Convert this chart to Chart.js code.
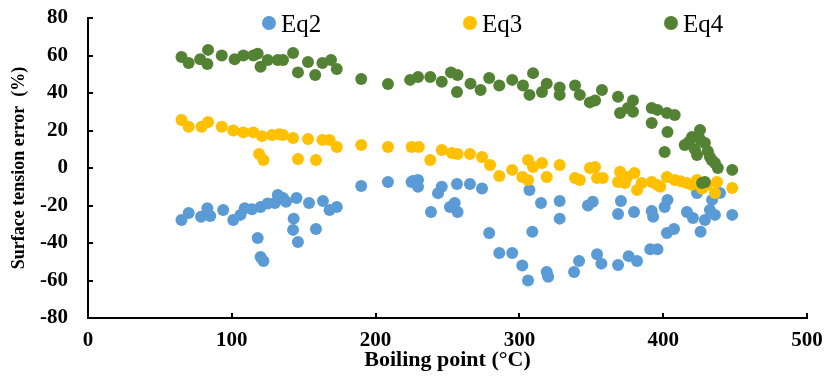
<!DOCTYPE html>
<html>
<head>
<meta charset="utf-8">
<script src="https://cdn.jsdelivr.net/npm/chart.js@4/dist/chart.umd.min.js"></script>
<style>
  html, body { margin: 0; padding: 0; background: #fff; }
</style>
</head>
<body>
<canvas id="chart" width="829" height="379"></canvas>
<script>
// values: boiling point (°C) and error (%)
const eq2Boil = [65, 70, 78.6, 83, 85, 94, 101, 106, 109, 114, 120, 125, 130, 132, 118, 120, 122,
  135.6, 137.7, 145, 153.7, 163.4, 168, 173, 143, 142.6, 146, 158.5, 190, 208.6,
  225, 226, 229.5, 229.5, 246, 243.4, 256.6, 265.6, 274, 238.5, 251.7, 255, 257, 279, 286, 295,
  302, 306, 309, 307, 315, 319, 320, 328, 328, 338, 341.5, 347.7, 351, 354, 357, 368.6, 368.6, 370.6,
  376, 381.8, 379.7, 391, 396, 392, 393, 401, 403, 402.6, 407.5, 416.5, 423.5, 426, 429, 432.5,
  436, 434, 439.5, 448, 420.7];
const eq2Err = [-27.7, -24, -26, -21.5, -25.6, -22.4, -27.7, -25, -21.5, -22, -20.8, -18.9, -18.7, -14.4, -37.3, -47.5, -49.6,
  -16, -18, -16, -18.7, -17.6, -22.4, -20.8, -27, -33, -39.5, -32.5, -9.6, -7.5,
  -7.5, -6.9, -6.4, -10, -10, -13.4, -8.5, -8.5, -10.9, -23.5, -20.8, -18.7, -23.5, -34.7, -45.3, -45.3,
  -52, -60, -34, -11.7, -18.7, -55.5, -58, -17.6, -27, -55.5, -49.6, -20, -18, -46, -51, -51.7, -24.5, -17.6,
  -47, -49.6, -23.5, -43.3, -43.3, -22.9, -26, -20.8, -17, -34.7, -32.5, -23.5, -13.3, -34, -27.7, -22.4,
  -25, -17, -13.3, -25, -26.7];

const eq3Boil = [65, 70, 79, 83.5, 93, 101, 108, 115, 121, 128, 133, 119, 122,
  135.6, 142.6, 153, 163, 168, 173, 146, 158.5, 190, 208.6,
  225, 230, 238, 246, 253, 257, 265.6, 274, 279.6, 286, 295,
  302, 306, 309.5, 306, 315.7, 319, 328, 338.7, 342, 349, 352.6, 354, 358, 370, 368.6, 375,
  380, 381.8, 373.4, 385, 392, 395.7, 398, 402.6, 408, 412, 416.5, 420, 423.5, 427, 430.5, 437.4, 436, 448];
const eq3Err = [25.6, 22, 22, 24.5, 22, 20, 19, 19, 17, 17.6, 18, 7.5, 4.3,
  17.6, 16, 15.5, 15, 15, 11.2, 4.8, 4.3, 12.3, 11.2,
  11.2, 11.2, 4.3, 9.6, 8, 7.5, 7.5, 5.9, 1.6, -4.3, -1,
  -4.8, 4.3, 0.5, -6.4, 2.7, -4.8, 1.6, -5.3, -6.4, 0, 0.5, -5.3, -5.3, -2, -7.5, -4.8,
  -2.7, -11.7, -8, -8, -7.5, -9, -10, -4.8, -6.4, -7, -8, -9, -6.4, -11, -9, -7.5, -13.3, -10.7];

const eq4Boil = [65, 70, 78, 83, 83.5, 93, 102, 108, 115, 118, 120, 125, 132,
  135.6, 142.6, 146, 153, 158, 163, 169, 173, 190, 208.6,
  224, 229.5, 238, 246, 252.4, 257, 256.6, 266, 273, 279, 286, 295,
  302.5, 309.5, 307, 315.7, 319, 328, 328, 338.7, 342, 349, 352.6, 357.4, 368.6, 370, 375.5,
  379, 379, 392, 392, 396, 402.6, 408, 403, 401, 415, 418, 420, 422, 425.6, 426, 423.5, 429, 431,
  432.5, 434, 436, 438, 429, 427, 448];
const eq4Err = [59.2, 56, 58, 55.5, 63, 60, 58, 60, 60, 61, 54, 57.6, 57.6,
  57.6, 61.3, 51, 56.5, 49.6, 56, 57.6, 52.8, 47.5, 44.8,
  47, 48.5, 48.5, 46, 51, 49.6, 40.5, 45, 41.6, 48, 44, 47,
  44, 50.6, 39, 40.5, 45, 39, 43, 44, 39, 35, 36, 41.6, 38, 29.3, 32,
  36, 30, 32, 24, 31, 29.3, 28.3, 19.2, 8.5, 12.3, 14, 16.5, 10, 20.3, 15, 6.9, 13.3, 9,
  5.9, 4, 2.7, 0, -7.5, -8, -1];

const seriesNames = ['Eq2', 'Eq3', 'Eq4'];
const seriesColors = ['#5B9BD5', '#FFC000', '#548235'];

function toPoints(xs, ys) {
  return xs.map((x, i) => ({ x: x, y: ys[i] }));
}

const serif = "'Liberation Serif', 'Times New Roman', serif";

// ticks in Excel style: short marks pointing into the plot
const innerTicks = {
  id: 'innerTicks',
  afterDraw(chart) {
    const ctx = chart.ctx;
    const xs = chart.scales.x, ys = chart.scales.y;
    ctx.save();
    ctx.strokeStyle = '#000';
    ctx.lineWidth = 2;
    ctx.beginPath();
    xs.ticks.forEach(t => {
      const px = Math.round(xs.getPixelForValue(t.value));
      ctx.moveTo(px, ys.bottom);
      ctx.lineTo(px, ys.bottom - 5);
    });
    ys.ticks.forEach(t => {
      const py = Math.round(ys.getPixelForValue(t.value));
      ctx.moveTo(xs.left, py);
      ctx.lineTo(xs.left + 5, py);
    });
    ctx.stroke();
    ctx.restore();
  }
};

// legend sits inside the plot, spread wide like the original
const wideLegend = {
  id: 'wideLegend',
  afterDraw(chart) {
    const ctx = chart.ctx;
    ctx.save();
    ctx.font = "25px " + serif;
    ctx.textBaseline = 'alphabetic';
    ctx.textAlign = 'left';
    chart.data.datasets.forEach((ds, i) => {
      const cx = chart.chartArea.left + 181 + i * 201;
      const cy = 23;
      ctx.fillStyle = ds.backgroundColor;
      ctx.beginPath();
      ctx.arc(cx, cy, 7, 0, Math.PI * 2);
      ctx.fill();
      ctx.fillStyle = '#000';
      ctx.fillText(ds.label, cx + 12, 32);
    });
    ctx.restore();
  }
};

const ctx = document.getElementById('chart').getContext('2d');
new Chart(ctx, {
  type: 'scatter',
  data: {
    datasets: [
      { label: seriesNames[0], data: toPoints(eq2Boil, eq2Err), backgroundColor: seriesColors[0], order: 2 },
      { label: seriesNames[1], data: toPoints(eq3Boil, eq3Err), backgroundColor: seriesColors[1], order: 1 },
      { label: seriesNames[2], data: toPoints(eq4Boil, eq4Err), backgroundColor: seriesColors[2], order: 0 }
    ]
  },
  options: {
    responsive: false,
    animation: false,
    events: [],
    elements: {
      point: { radius: 6, borderWidth: 0, hoverRadius: 6 }
    },
    layout: { padding: { left: 0, right: 22, top: 18, bottom: 0 } },
    plugins: {
      legend: { display: false },
      tooltip: { enabled: false }
    },
    scales: {
      x: {
        type: 'linear',
        min: 0,
        max: 500,
        afterFit: s => { s.height = 61; s.paddingLeft = 0; s.paddingRight = 0; },
        ticks: { stepSize: 100, color: '#000', padding: 10, font: { family: serif, size: 21, weight: 'bold' } },
        grid: { display: false, drawTicks: false },
        border: { display: true, color: '#000', width: 2 },
        title: {
          display: true,
          text: 'Boiling point (°C)',
          color: '#000',
          padding: { top: 0, bottom: 5 },
          font: { family: serif, size: 22, weight: 'bold' }
        }
      },
      y: {
        min: -80,
        max: 80,
        afterFit: s => { s.width = 88; s.paddingTop = 0; s.paddingBottom = 0; },
        ticks: { stepSize: 20, color: '#000', padding: 20, font: { family: serif, size: 21, weight: 'bold' } },
        grid: { display: false, drawTicks: false },
        border: { display: true, color: '#000', width: 2 },
        title: {
          display: true,
          text: 'Surface tension error  (%)',
          color: '#000',
          padding: { top: 9, bottom: 0 },
          font: { family: serif, size: 18, weight: 'bold' }
        }
      }
    }
  },
  plugins: [innerTicks, wideLegend]
});
</script>
</body>
</html>
